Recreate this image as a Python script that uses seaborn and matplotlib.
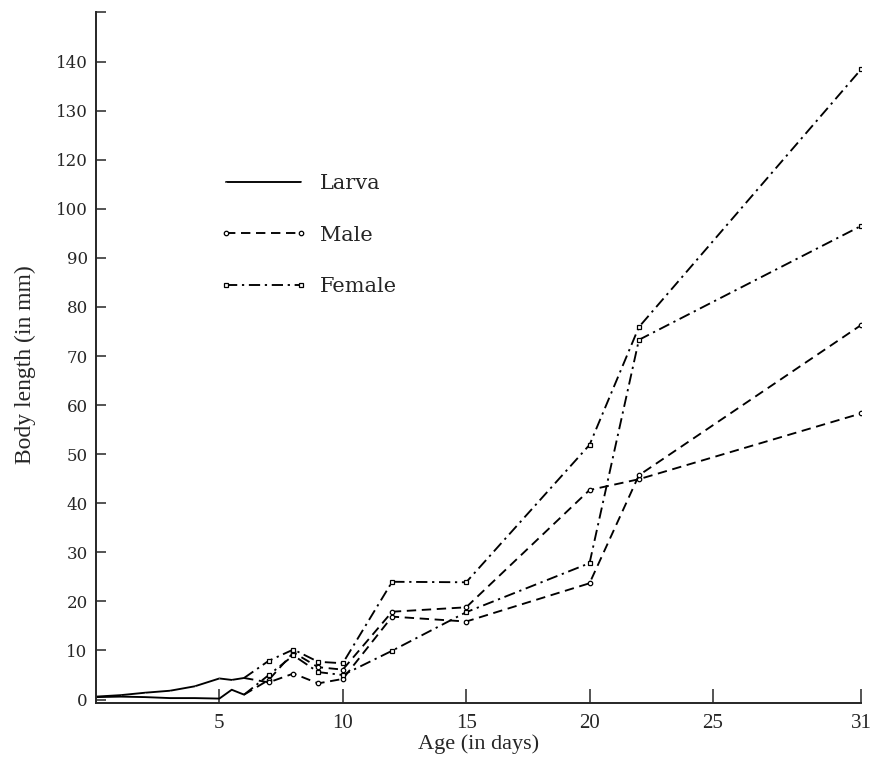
# Body length vs age: larva, male and female growth curves

import pandas as pd
import matplotlib
matplotlib.use("Agg")
import matplotlib.pyplot as plt
import seaborn as sns

# Larva stage (two broods), days 0-6
larva_days = [0, 1, 2, 3, 4, 5, 5.5, 6]
larva_a = [0.6, 0.9, 1.4, 1.8, 2.7, 4.3, 4.0, 4.4]
larva_b = [0.5, 0.6, 0.5, 0.3, 0.3, 0.2, 2.0, 1.0]

# Adult stage, starting from the last larva measurement
adult_days = [6, 7, 8, 9, 10, 12, 15, 20, 22, 31]
female_a = [4.4, 7.9, 10.2, 7.7, 7.4, 24.0, 23.9, 51.9, 75.9, 128.4]
male_a = [1.0, 4.0, 9.6, 6.6, 6.1, 17.9, 18.8, 42.7, 44.9, 58.3]
female_b = [1.0, 5.0, 9.0, 5.6, 5.0, 9.95, 17.8, 27.8, 73.3, 96.5]
male_b = [4.4, 3.5, 5.3, 3.3, 4.2, 16.9, 15.9, 23.7, 45.7, 76.3]

# axis ticks (the printed scale skips 110)
x_ticks = [5, 10, 15, 20, 25, 31]
y_ticks = [0, 10, 20, 30, 40, 50, 60, 70, 80, 90, 100, 110, 120, 130, 140]
y_tick_labels = ["0", "10", "20", "30", "40", "50", "60", "70", "80", "90",
                 "100", "120", "130", "140", ""]

sns.set_style("ticks")
plt.rcParams["font.family"] = ["DejaVu Serif"]

fig = plt.figure(figsize=(8.79, 7.71), dpi=100)
ax = fig.add_axes([96 / 879, 68 / 771, 765 / 879, 691 / 771])

dash = (0, (5, 3))
dashdot = (0, (6, 2.5, 1.2, 2.5))
lw = 1.35

sns.lineplot(x=larva_days, y=larva_a, ax=ax, color="black", lw=lw,
             label="Larva", marker="o", markersize=0.1)
sns.lineplot(x=larva_days, y=larva_b, ax=ax, color="black", lw=lw)

mk = dict(markersize=3.2, markerfacecolor="white", markeredgecolor="black",
          markeredgewidth=0.9, markevery=list(range(1, len(adult_days))))

sns.lineplot(x=adult_days, y=male_a, ax=ax, color="black", lw=lw,
             linestyle=dash, marker="o", label="Male", **mk)
sns.lineplot(x=adult_days, y=male_b, ax=ax, color="black", lw=lw,
             linestyle=dash, marker="o", **mk)
sns.lineplot(x=adult_days, y=female_a, ax=ax, color="black", lw=lw,
             linestyle=dashdot, marker="s", label="Female", **mk)
sns.lineplot(x=adult_days, y=female_b, ax=ax, color="black", lw=lw,
             linestyle=dashdot, marker="s", **mk)

ax.set_xlim(0, 31)
ax.set_ylim(-0.7, 140.1)
ax.set_xticks(x_ticks)
ax.set_xticklabels([str(t) for t in x_ticks], fontsize=15,
                   family="Liberation Serif")
ax.set_yticks(y_ticks)
ax.set_yticklabels(y_tick_labels, fontsize=12)
ax.tick_params(axis="x", direction="in", length=10, width=1.1, pad=8)
ax.tick_params(axis="y", direction="in", length=7, width=1.1, pad=6)

ax.set_xlabel("Age (in days)", fontsize=16, family="Liberation Serif",
              labelpad=1)
ax.set_ylabel("Body length (in mm)", fontsize=17, family="Liberation Serif")
ax.yaxis.set_label_coords(-0.078, 0.49)

sns.despine(ax=ax, top=True, right=True)
for s in ["left", "bottom"]:
    ax.spines[s].set_linewidth(1.4)

ax.legend(loc="upper left", bbox_to_anchor=(0.162, 0.765), frameon=False,
          fontsize=15, handlelength=4.2, handletextpad=0.6,
          labelspacing=1.55, borderpad=0, borderaxespad=0, numpoints=2)

plt.savefig("out.png", dpi=100)
plt.close()
